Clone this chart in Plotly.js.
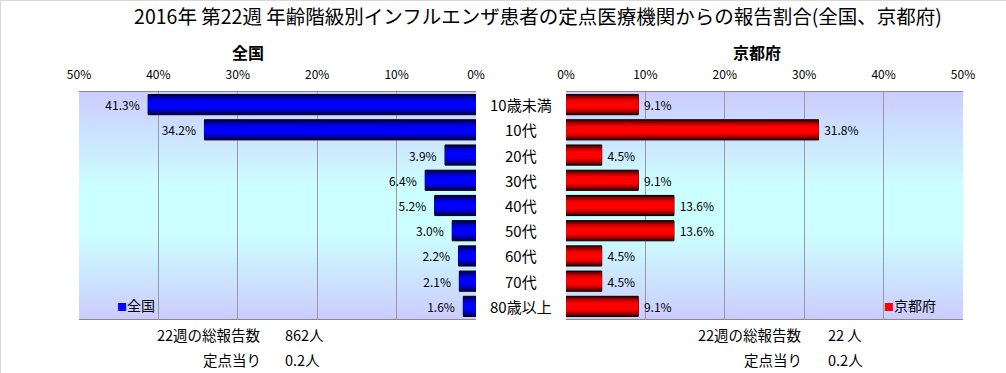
<!DOCTYPE html>
<html>
<head>
<meta charset="utf-8">
<script src="https://cdn.plot.ly/plotly-3.0.1.min.js"></script>
<style>
html,body{margin:0;padding:0;background:#fff;}
#wrap{position:relative;width:1006px;height:373px;overflow:hidden;}
#chart{width:1006px;height:373px;}
#frame{position:absolute;left:0;top:0;width:1005px;height:372px;border-top:1px solid #d8d8d8;border-left:1px solid #d8d8d8;pointer-events:none;}
</style>
</head>
<body>
<div id="wrap"><div id="chart"></div><div id="frame"></div></div>
<script>
// ---- data ----
const categories = ["10歳未満","10代","20代","30代","40代","50代","60代","70代","80歳以上"];
const zenkokuValues = [41.3, 34.2, 3.9, 6.4, 5.2, 3.0, 2.2, 2.1, 1.6];
const kyotoValues = [9.1, 31.8, 4.5, 9.1, 13.6, 13.6, 4.5, 4.5, 9.1];
const tickValues = [0, 10, 20, 30, 40, 50];
const tickLabels = ["0%", "10%", "20%", "30%", "40%", "50%"];
const chartTitle = "2016年 第22週 年齢階級別インフルエンザ患者の定点医療機関からの報告割合(全国、京都府)";
const leftTitle = "全国";
const rightTitle = "京都府";
const leftTotalLabel = "22週の総報告数", leftTotalValue = "862人";
const leftPerLabel = "定点当り", leftPerValue = "0.2人";
const rightTotalLabel = "22週の総報告数", rightTotalValue = "22 人";
const rightPerLabel = "定点当り", rightPerValue = "0.2人";

const FONT = '"Noto Sans CJK JP", "Noto Sans", sans-serif';
const NB = "\u00a0";

// gradient layers (outer -> inner)
const blueLayers = [["#000048",0.8],["#000088",0.68],["#0000b8",0.56],["#0000dc",0.44],["#0000ff",0.3]];
const redLayers  = [["#480000",0.8],["#880000",0.68],["#b80000",0.56],["#dc0000",0.44],["#ff0000",0.3]];

const traces = [];
function addSeries(values, layers, xa, ya, name, tmpl){
  layers.forEach((l, i) => {
    const t = {
      type: "bar", orientation: "h",
      y: categories, x: values,
      xaxis: xa, yaxis: ya, name: name,
      width: l[1],
      marker: {color: l[0], line: {color: "#000", width: i === 0 ? 1 : 0}},
      showlegend: false, hoverinfo: "skip"
    };
    if (i === 0) {
      t.texttemplate = tmpl;
      t.textposition = "outside";
      t.cliponaxis = false;
      t.textfont = {family: FONT, size: 12, color: "#000"};
    } else {
      t.textposition = "none";
    }
    traces.push(t);
  });
}
addSeries(zenkokuValues, blueLayers, "x", "y", leftTitle, "%{x:.1f}%" + NB + NB);
addSeries(kyotoValues, redLayers, "x2", "y2", rightTitle, NB + "%{x:.1f}%");

const W = 1006, H = 373;
const px = v => v / W, py = v => 1 - v / H;

const bgSvg = "<svg xmlns='http://www.w3.org/2000/svg' width='10' height='100' preserveAspectRatio='none'>" +
  "<defs><linearGradient id='g' x1='0' y1='0' x2='0' y2='1'>" +
  "<stop offset='0' stop-color='#ccccff'/><stop offset='0.42' stop-color='#ccffff'/>" +
  "<stop offset='0.62' stop-color='#ccffff'/><stop offset='1' stop-color='#ccccff'/>" +
  "</linearGradient></defs><rect width='10' height='100' fill='url(#g)'/></svg>";
const bgUri = "data:image/svg+xml;charset=utf-8," + encodeURIComponent(bgSvg);

const axisCommon = {
  side: "top", tickvals: tickValues, ticktext: tickLabels,
  showgrid: true, gridcolor: "#9a9a9a", gridwidth: 1,
  zeroline: false, showline: true, mirror: true, linecolor: "#8a8a8a", linewidth: 1,
  ticks: "", ticklabelstandoff: 7,
  tickfont: {family: FONT, size: 12, color: "#000"}, fixedrange: true
};
const yCommon = {
  type: "category", autorange: "reversed", showticklabels: false,
  showgrid: false, zeroline: false, showline: false, ticks: "", fixedrange: true
};

const annotations = [];
// category labels between panels
categories.forEach(c => annotations.push({
  xref: "paper", yref: "y", x: px(521), y: c, text: c, showarrow: false,
  xanchor: "center", yanchor: "middle", font: {family: FONT, size: 15, color: "#000"}
}));
annotations.push({xref:"paper", yref:"paper", x:px(248), y:py(52), text:"<b>"+leftTitle+"</b>", showarrow:false, xanchor:"center", yanchor:"middle", font:{family:FONT,size:16,color:"#000"}});
annotations.push({xref:"paper", yref:"paper", x:px(757), y:py(52), text:"<b>"+rightTitle+"</b>", showarrow:false, xanchor:"center", yanchor:"middle", font:{family:FONT,size:16,color:"#000"}});
// legends
annotations.push({xref:"paper", yref:"paper", x:px(115), y:py(305), text:"<span style='color:#0000ff;font-size:10px'>■</span>"+leftTitle, showarrow:false, xanchor:"left", yanchor:"middle", font:{family:FONT,size:14,color:"#000"}});
annotations.push({xref:"paper", yref:"paper", x:px(882), y:py(305), text:"<span style='color:#ff0000;font-size:10px'>■</span>"+rightTitle, showarrow:false, xanchor:"left", yanchor:"middle", font:{family:FONT,size:14,color:"#000"}});
// bottom stats
function stat(xl, xv, y, label, value){
  annotations.push({xref:"paper", yref:"paper", x:px(xl), y:py(y), text:label, showarrow:false, xanchor:"right", yanchor:"middle", font:{family:FONT,size:14.5,color:"#000"}});
  annotations.push({xref:"paper", yref:"paper", x:px(xv), y:py(y), text:value, showarrow:false, xanchor:"left", yanchor:"middle", font:{family:FONT,size:14.5,color:"#000"}});
}
stat(263, 283, 334, leftTotalLabel, leftTotalValue);
stat(263, 283, 359, leftPerLabel, leftPerValue);
stat(804, 826, 334, rightTotalLabel, rightTotalValue);
stat(804, 826, 359, rightPerLabel, rightPerValue);

const layout = {
  width: W, height: H,
  margin: {l: 0, r: 0, t: 0, b: 0},
  paper_bgcolor: "rgba(0,0,0,0)", plot_bgcolor: "rgba(0,0,0,0)",
  title: {text: chartTitle, x: px(538), xanchor: "center", xref: "paper", yref: "container", y: py(17), yanchor: "middle",
          font: {family: FONT, size: 19.5, color: "#000"}},
  barmode: "overlay",
  showlegend: false,
  xaxis: Object.assign({}, axisCommon, {domain: [px(79), px(476)], range: [50, 0], anchor: "y"}),
  yaxis: Object.assign({}, yCommon, {domain: [py(319), py(92)], anchor: "x"}),
  xaxis2: Object.assign({}, axisCommon, {domain: [px(566), px(963)], range: [0, 50], anchor: "y2"}),
  yaxis2: Object.assign({}, yCommon, {domain: [py(319), py(92)], anchor: "x2"}),
  images: [
    {source: bgUri, xref: "x domain", yref: "y domain", x: 0, y: 1, sizex: 1, sizey: 1, sizing: "stretch", xanchor: "left", yanchor: "top", layer: "below"},
    {source: bgUri, xref: "x2 domain", yref: "y2 domain", x: 0, y: 1, sizex: 1, sizey: 1, sizing: "stretch", xanchor: "left", yanchor: "top", layer: "below"}
  ],
  annotations: annotations
};

Plotly.newPlot("chart", traces, layout, {displayModeBar: false, staticPlot: true});
</script>
</body>
</html>
